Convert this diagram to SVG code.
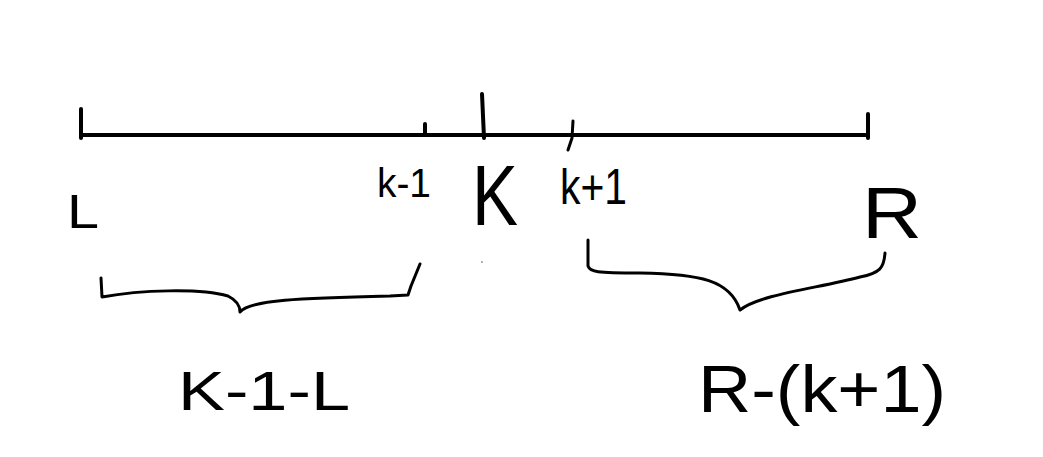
<svg xmlns="http://www.w3.org/2000/svg" width="1043" height="457" viewBox="0 0 1043 457">
<style>
.ink{fill:none;stroke:#000;stroke-linecap:round;stroke-linejoin:round}
.axis{stroke-width:4}
.tick{stroke-width:4}
.brace{stroke-width:3}
.lbl{font-family:"Liberation Sans",Arial,sans-serif;fill:#000}
</style>
<rect width="1043" height="457" fill="#fff"/>
<g id="axis">
<path class="ink axis" d="M81 135 L868 135"/>
</g>
<g id="ticks">
<path class="ink tick" d="M81 109 L81 138"/>
<path class="ink tick" d="M425 124 L425 135"/>
<path class="ink tick" d="M482 94 L484 138"/>
<path class="ink tick" d="M573 121 L572 138 L568 150" style="stroke-width:3"/>
<path class="ink tick" d="M868 114 L868 138"/>
</g>
<g id="labels">
<text class="lbl" x="67" y="228" font-size="48" textLength="32" lengthAdjust="spacingAndGlyphs">L</text>
<text class="lbl" x="377" y="197" font-size="40" textLength="54" lengthAdjust="spacingAndGlyphs">k-1</text>
<text class="lbl" x="472" y="225" font-size="86" textLength="46" lengthAdjust="spacingAndGlyphs">K</text>
<text class="lbl" x="560" y="204" font-size="50" textLength="67" lengthAdjust="spacingAndGlyphs">k+1</text>
<text class="lbl" x="862" y="238" font-size="72" textLength="60" lengthAdjust="spacingAndGlyphs">R</text>
<circle cx="482" cy="262" r="1" fill="#999"/>
</g>
<g id="connectors">
<path class="ink brace" d="M101 278 L102 297 C140 290 200 288 228 296 C236 300 240 306 240 312 C250 300 300 298 390 296 L408 295 L411 286 L420 264"/>
<path class="ink brace" d="M588 240 L588 266 C590 272 596 273 640 273 C700 274 730 280 740 310 C760 294 820 288 860 277 C880 273 884 268 885 253"/>
</g>
<g id="formulas">
<text class="lbl" x="178" y="410" font-size="56" textLength="172" lengthAdjust="spacingAndGlyphs">K-1-L</text>
<text class="lbl" x="698" y="412" font-size="66" textLength="248" lengthAdjust="spacingAndGlyphs">R-(k+1)</text>
</g>
</svg>
